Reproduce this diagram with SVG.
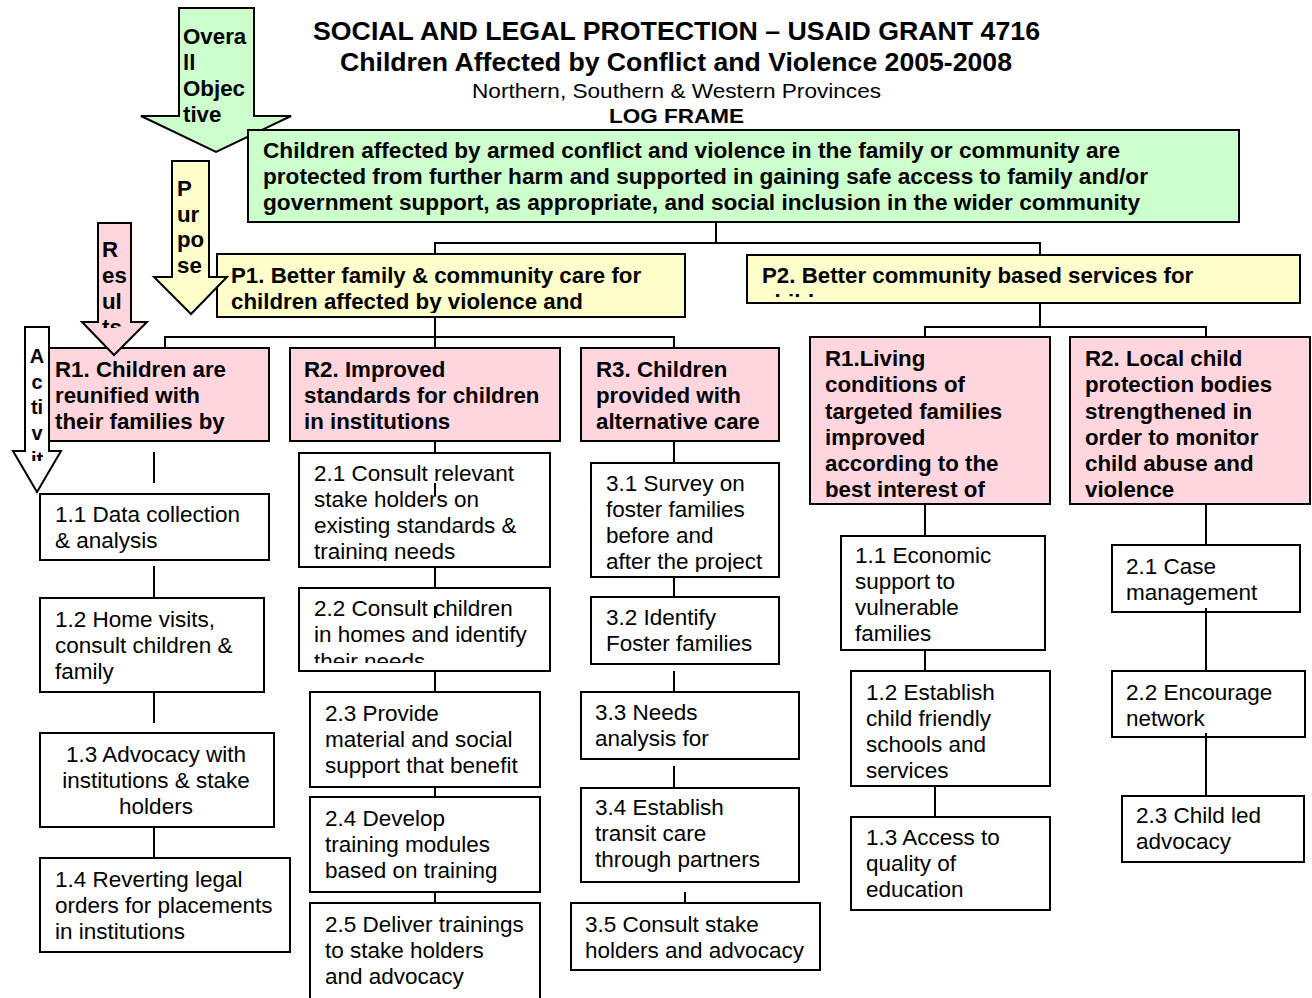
<svg xmlns="http://www.w3.org/2000/svg" width="1312" height="998" viewBox="0 0 1312 998">
<style>
text{font-family:"Liberation Sans",Arial,sans-serif;fill:#000}
.b{font-weight:bold;font-size:22.3px}
.r{font-size:22.5px}
.box{stroke:#000;stroke-width:2}
.g{fill:#ccffcc}.y{fill:#ffffcc}.p{fill:#ffd6dd}.w{fill:#fff}
.c line{stroke:#000;stroke-width:2}
</style>
<defs>
<clipPath id="cP1"><rect x="217" y="254" width="468" height="59"/></clipPath>
<clipPath id="cP2"><rect x="747" y="254" width="553" height="43"/></clipPath>
<clipPath id="cRes"><rect x="96" y="223" width="38" height="105"/></clipPath>
<clipPath id="cAct"><rect x="23" y="327" width="28" height="134"/></clipPath>
<clipPath id="c21"><rect x="299" y="453" width="251" height="108"/></clipPath>
<clipPath id="c22"><rect x="299" y="588" width="251" height="75"/></clipPath>
<clipPath id="c31"><rect x="591" y="463" width="188" height="109"/></clipPath>
</defs>
<rect width="1312" height="998" fill="#fff"/>
<g id="title">
<text class="b" x="313" y="40" style="font-size:26px" textLength="727" lengthAdjust="spacingAndGlyphs">SOCIAL AND LEGAL PROTECTION – USAID GRANT 4716</text>
<text class="b" x="340" y="71" style="font-size:26px" textLength="672" lengthAdjust="spacingAndGlyphs">Children Affected by Conflict and Violence 2005-2008</text>
<text class="r" x="472" y="98" style="font-size:21px" textLength="409" lengthAdjust="spacingAndGlyphs">Northern, Southern &amp; Western Provinces</text>
<text class="b" x="609" y="123" style="font-size:21px" textLength="135" lengthAdjust="spacingAndGlyphs">LOG FRAME</text>
</g>
<g id="arrow-overall">
<polygon class="box g" points="179,8 254,8 254,116 291,116 216,152 141,116 179,116"/>
<text class="b" x="183" y="44">Overa</text>
<text class="b" x="183" y="70">ll</text>
<text class="b" x="183" y="96">Objec</text>
<text class="b" x="183" y="122">tive</text>
</g>
<g id="objective">
<rect class="box g" x="248" y="130" width="991" height="92"/>
<text class="b" x="263" y="158" textLength="857" lengthAdjust="spacingAndGlyphs">Children affected by armed conflict and violence in the family or community are</text>
<text class="b" x="263" y="184" textLength="885" lengthAdjust="spacingAndGlyphs">protected from further harm and supported in gaining safe access to family and/or</text>
<text class="b" x="263" y="210" textLength="877" lengthAdjust="spacingAndGlyphs">government support, as appropriate, and social inclusion in the wider community</text>
</g>
<g id="P1">
<rect class="box y" x="217" y="254" width="468" height="63"/>
<g clip-path="url(#cP1)">
<text class="b" x="231" y="283">P1. Better family &amp; community care for</text>
<text class="b" x="231" y="309">children affected by violence and</text>
</g>
</g>
<g id="arrow-purpose">
<polygon class="box y" points="172,161 209,161 209,277 227,277 191,314 154,277 172,277"/>
<text class="b" x="177" y="196">P</text>
<text class="b" x="177" y="222">ur</text>
<text class="b" x="177" y="247">po</text>
<text class="b" x="177" y="273">se</text>
</g>
<g id="P2">
<rect class="box y" x="747" y="255" width="553" height="48"/>
<g clip-path="url(#cP2)">
<text class="b" x="762" y="283">P2. Better community based services for</text>
<text class="b" x="762" y="310">children</text>
</g>
</g>
<g id="arrow-activities">
<polygon class="box w" points="25,327 49,327 49,451 61,451 37,492 13,451 25,451"/>
<g clip-path="url(#cAct)" text-anchor="middle">
<text class="b" x="37" y="363" style="font-size:20px">A</text>
<text class="b" x="37" y="389" style="font-size:20px">c</text>
<text class="b" x="37" y="414" style="font-size:20px">ti</text>
<text class="b" x="37" y="440" style="font-size:20px">v</text>
<text class="b" x="37" y="466" style="font-size:20px">it</text>
</g>
</g>
<g id="R1a">
<rect class="box p" x="49" y="348" width="220" height="93"/>
<text class="b" x="55" y="377">R1. Children are</text>
<text class="b" x="55" y="403">reunified with</text>
<text class="b" x="55" y="429">their families by</text>
</g>
<g id="arrow-results">
<polygon class="box p" points="98,223 131,223 131,322 147,322 114,355 82,322 98,322"/>
<g clip-path="url(#cRes)">
<text class="b" x="102" y="257">R</text>
<text class="b" x="102" y="283">es</text>
<text class="b" x="102" y="309">ul</text>
<text class="b" x="102" y="335">ts</text>
</g>
</g>
<g id="R2a">
<rect class="box p" x="290" y="348" width="270" height="93"/>
<text class="b" x="304" y="377">R2. Improved</text>
<text class="b" x="304" y="403">standards for children</text>
<text class="b" x="304" y="429">in institutions</text>
</g>
<g id="R3a">
<rect class="box p" x="581" y="348" width="198" height="93"/>
<text class="b" x="596" y="377">R3. Children</text>
<text class="b" x="596" y="403">provided with</text>
<text class="b" x="596" y="429">alternative care</text>
</g>
<g id="R1b">
<rect class="box p" x="810" y="337" width="240" height="167"/>
<text class="b" x="825" y="366">R1.Living</text>
<text class="b" x="825" y="392">conditions of</text>
<text class="b" x="825" y="419">targeted families</text>
<text class="b" x="825" y="445">improved</text>
<text class="b" x="825" y="471">according to the</text>
<text class="b" x="825" y="497">best interest of</text>
</g>
<g id="R2b">
<rect class="box p" x="1070" y="337" width="240" height="167"/>
<text class="b" x="1085" y="366">R2. Local child</text>
<text class="b" x="1085" y="392">protection bodies</text>
<text class="b" x="1085" y="419">strengthened in</text>
<text class="b" x="1085" y="445">order to monitor</text>
<text class="b" x="1085" y="471">child abuse and</text>
<text class="b" x="1085" y="497">violence</text>
</g>
<g id="A1-1">
<rect class="box w" x="40" y="494" width="229" height="66"/>
<text class="r" x="55" y="522">1.1 Data collection</text>
<text class="r" x="55" y="548">&amp; analysis</text>
</g>
<g id="A1-2">
<rect class="box w" x="40" y="598" width="224" height="94"/>
<text class="r" x="55" y="627">1.2 Home visits,</text>
<text class="r" x="55" y="653">consult children &amp;</text>
<text class="r" x="55" y="679">family</text>
</g>
<g id="A1-3">
<rect class="box w" x="40" y="733" width="234" height="94"/>
<g text-anchor="middle">
<text class="r" x="156" y="762">1.3 Advocacy with</text>
<text class="r" x="156" y="788">institutions &amp; stake</text>
<text class="r" x="156" y="814">holders</text>
</g>
</g>
<g id="A1-4">
<rect class="box w" x="40" y="858" width="250" height="94"/>
<text class="r" x="55" y="887">1.4 Reverting legal</text>
<text class="r" x="55" y="913">orders for placements</text>
<text class="r" x="55" y="939">in institutions</text>
</g>
<g id="A2-1">
<rect class="box w" x="299" y="453" width="251" height="114"/>
<g clip-path="url(#c21)">
<text class="r" x="314" y="481">2.1 Consult relevant</text>
<text class="r" x="314" y="507">stake holders on</text>
<text class="r" x="314" y="533">existing standards &amp;</text>
<text class="r" x="314" y="559">training needs</text>
</g>
</g>
<g id="A2-2">
<rect class="box w" x="299" y="588" width="251" height="83"/>
<g clip-path="url(#c22)">
<text class="r" x="314" y="616">2.2 Consult children</text>
<text class="r" x="314" y="642">in homes and identify</text>
<text class="r" x="314" y="669">their needs</text>
</g>
</g>
<g id="A2-3">
<rect class="box w" x="310" y="692" width="230" height="95"/>
<text class="r" x="325" y="721">2.3 Provide</text>
<text class="r" x="325" y="747">material and social</text>
<text class="r" x="325" y="773">support that benefit</text>
</g>
<g id="A2-4">
<rect class="box w" x="310" y="797" width="230" height="95"/>
<text class="r" x="325" y="826">2.4 Develop</text>
<text class="r" x="325" y="852">training modules</text>
<text class="r" x="325" y="878">based on training</text>
</g>
<g id="A2-5">
<rect class="box w" x="310" y="903" width="230" height="110"/>
<text class="r" x="325" y="932">2.5 Deliver trainings</text>
<text class="r" x="325" y="958">to stake holders</text>
<text class="r" x="325" y="984">and advocacy</text>
</g>
<g id="A3-1">
<rect class="box w" x="591" y="463" width="188" height="114"/>
<g clip-path="url(#c31)">
<text class="r" x="606" y="491">3.1 Survey on</text>
<text class="r" x="606" y="517">foster families</text>
<text class="r" x="606" y="543">before and</text>
<text class="r" x="606" y="569">after the project</text>
</g>
</g>
<g id="A3-2">
<rect class="box w" x="591" y="597" width="188" height="67"/>
<text class="r" x="606" y="625">3.2 Identify</text>
<text class="r" x="606" y="651">Foster families</text>
</g>
<g id="A3-3">
<rect class="box w" x="581" y="692" width="218" height="67"/>
<text class="r" x="595" y="720">3.3 Needs</text>
<text class="r" x="595" y="746">analysis for</text>
</g>
<g id="A3-4">
<rect class="box w" x="581" y="788" width="218" height="94"/>
<text class="r" x="595" y="815">3.4 Establish</text>
<text class="r" x="595" y="841">transit care</text>
<text class="r" x="595" y="867">through partners</text>
</g>
<g id="A3-5">
<rect class="box w" x="571" y="903" width="249" height="67"/>
<text class="r" x="585" y="932">3.5 Consult stake</text>
<text class="r" x="585" y="958">holders and advocacy</text>
</g>
<g id="B1-1">
<rect class="box w" x="841" y="536" width="204" height="114"/>
<text class="r" x="855" y="563">1.1 Economic</text>
<text class="r" x="855" y="589">support to</text>
<text class="r" x="855" y="615">vulnerable</text>
<text class="r" x="855" y="641">families</text>
</g>
<g id="B1-2">
<rect class="box w" x="851" y="671" width="199" height="115"/>
<text class="r" x="866" y="700">1.2 Establish</text>
<text class="r" x="866" y="726">child friendly</text>
<text class="r" x="866" y="752">schools and</text>
<text class="r" x="866" y="778">services</text>
</g>
<g id="B1-3">
<rect class="box w" x="851" y="817" width="199" height="93"/>
<text class="r" x="866" y="845">1.3 Access to</text>
<text class="r" x="866" y="871">quality of</text>
<text class="r" x="866" y="897">education</text>
</g>
<g id="B2-1">
<rect class="box w" x="1112" y="545" width="188" height="67"/>
<text class="r" x="1126" y="574">2.1 Case</text>
<text class="r" x="1126" y="600">management</text>
</g>
<g id="B2-2">
<rect class="box w" x="1112" y="671" width="193" height="66"/>
<text class="r" x="1126" y="700">2.2 Encourage</text>
<text class="r" x="1126" y="726">network</text>
</g>
<g id="B2-3">
<rect class="box w" x="1122" y="796" width="182" height="66"/>
<text class="r" x="1136" y="823">2.3 Child led</text>
<text class="r" x="1136" y="849">advocacy</text>
</g>
<g id="connectors" class="c">
<line x1="716" y1="222" x2="716" y2="243"/>
<line x1="434" y1="243" x2="1041" y2="243"/>
<line x1="435" y1="243" x2="435" y2="254"/>
<line x1="1040" y1="243" x2="1040" y2="255"/>
<line x1="435" y1="317" x2="435" y2="337"/>
<line x1="164" y1="337" x2="675" y2="337"/>
<line x1="165" y1="337" x2="165" y2="348"/>
<line x1="435" y1="337" x2="435" y2="348"/>
<line x1="674" y1="337" x2="674" y2="348"/>
<line x1="1040" y1="303" x2="1040" y2="327"/>
<line x1="924" y1="327" x2="1207" y2="327"/>
<line x1="925" y1="327" x2="925" y2="337"/>
<line x1="1206" y1="327" x2="1206" y2="337"/>
<line x1="154" y1="452" x2="154" y2="483"/>
<line x1="154" y1="566" x2="154" y2="597"/>
<line x1="154" y1="692" x2="154" y2="723"/>
<line x1="154" y1="827" x2="154" y2="858"/>
<line x1="435" y1="441" x2="435" y2="453"/>
<line x1="435" y1="483" x2="435" y2="495"/>
<line x1="435" y1="567" x2="435" y2="588"/>
<line x1="435" y1="606" x2="435" y2="618"/>
<line x1="435" y1="671" x2="435" y2="692"/>
<line x1="435" y1="787" x2="435" y2="797"/>
<line x1="435" y1="892" x2="435" y2="903"/>
<line x1="674" y1="441" x2="674" y2="463"/>
<line x1="674" y1="577" x2="674" y2="597"/>
<line x1="674" y1="671" x2="674" y2="692"/>
<line x1="674" y1="766" x2="674" y2="788"/>
<line x1="685" y1="892" x2="685" y2="903"/>
<line x1="925" y1="504" x2="925" y2="536"/>
<line x1="925" y1="650" x2="925" y2="671"/>
<line x1="935" y1="786" x2="935" y2="817"/>
<line x1="1206" y1="504" x2="1206" y2="545"/>
<line x1="1206" y1="608" x2="1206" y2="671"/>
<line x1="1206" y1="733" x2="1206" y2="796"/>
</g>
</svg>
